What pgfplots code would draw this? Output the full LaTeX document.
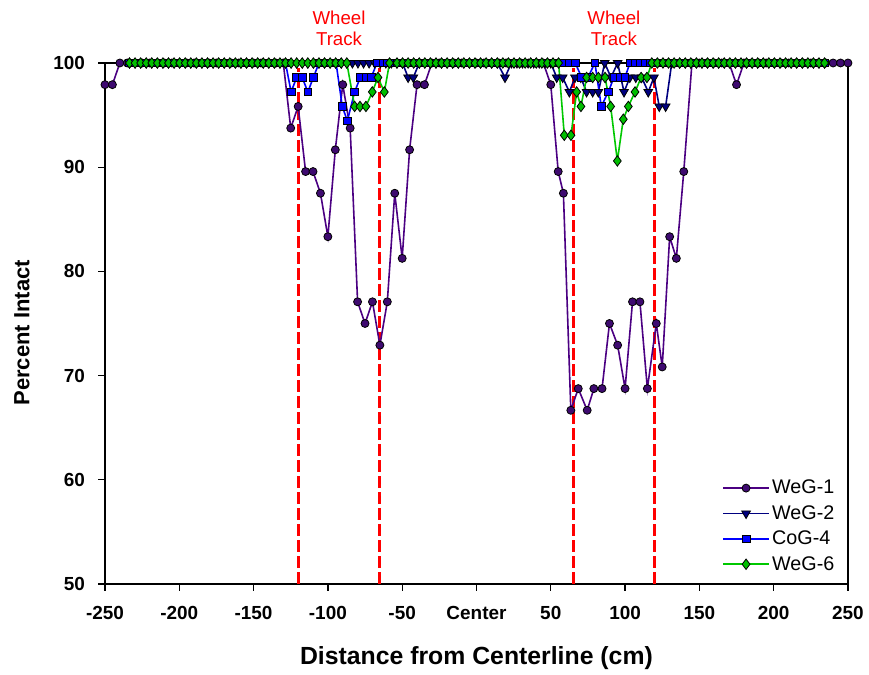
\documentclass[border=0pt]{standalone}
\usepackage{pgfplots}
\pgfplotsset{compat=1.18}
\usepackage{fontspec}
\setmainfont{Liberation Sans}
\definecolor{c1}{RGB}{75,0,130}
\definecolor{c1f}{RGB}{62,10,112}
\definecolor{c2}{RGB}{0,0,128}
\definecolor{c3}{RGB}{0,0,255}
\definecolor{c4}{RGB}{0,200,0}
\definecolor{c4f}{RGB}{0,190,0}
\begin{document}
\begin{tikzpicture}
\begin{axis}[
 scale only axis, width=557.25pt, height=390.75pt,
 xmin=-250, xmax=250, ymin=50, ymax=100,
 xtick={-250,-200,...,250},
 xticklabels={-250,-200,-150,-100,-50,Center,50,100,150,200,250},
 ytick={50,60,...,100},
 tick align=outside, xtick pos=left, ytick pos=left,
 major tick length=5pt,
 axis line style={line width=1pt},
 every tick/.style={line width=1pt, black},
 ticklabel style={font=\bfseries\fontsize{14.2}{16}\selectfont},
 xticklabel style={yshift=-8.5pt},
 yticklabel style={xshift=-6.5pt},
 /pgf/number format/assume math mode=true,
 xlabel={Distance from Centerline (cm)},
 ylabel={Percent Intact},
 xlabel style={font=\bfseries\fontsize{18.6}{22}\selectfont, at={(axis description cs:0.5,-0.142)},anchor=center},
 ylabel style={font=\bfseries\fontsize{16.5}{20}\selectfont, at={(axis description cs:-0.1117,0.482)},anchor=center},
 clip=false,
 legend style={at={(axis description cs:0.991,0.012)}, anchor=south east, draw=none, fill=none, font=\fontsize{14.8}{17}\selectfont, row sep=3.2pt, cells={anchor=west}},
 legend image code/.code={\draw[mark repeat=2,mark phase=2,#1] plot coordinates {(0pt,0pt) (17pt,0pt) (34pt,0pt)};},
]
\coordinate (bbl) at (rel axis cs:-0.1413,-0.1747);
\coordinate (btr) at (rel axis cs:1.0283,1.1209);
% wheel track lines
\addplot[red, line width=2.2pt, dash pattern=on 9pt off 3pt, forget plot] coordinates {(-120,50) (-120,99.5)};
\addplot[red, line width=2.2pt, dash pattern=on 9pt off 3pt, forget plot] coordinates {(-65,50) (-65,99.5)};
\addplot[red, line width=2.2pt, dash pattern=on 9pt off 3pt, forget plot] coordinates {(65,50) (65,99.5)};
\addplot[red, line width=2.2pt, dash pattern=on 9pt off 3pt, forget plot] coordinates {(120,50) (120,99.5)};
% WeG-1
\addplot[c1, line width=1.2pt, mark=*, mark size=3pt, mark options={fill=c1f, draw=black, line width=0.6pt}] coordinates {
(-250,97.92) (-245,97.92) (-240,100) (-235,100) (-230,100) (-225,100) (-220,100) (-215,100) (-210,100) (-205,100) (-200,100) (-195,100) (-190,100) (-185,100) (-180,100) (-175,100) (-170,100) (-165,100) (-160,100) (-155,100) (-150,100) (-145,100) (-140,100) (-135,100) (-130,100)
(-125,93.75) (-120,95.83) (-115,89.58) (-110,89.58) (-105,87.5) (-100,83.33) (-95,91.67) (-90,97.92) (-85,93.75) (-80,77.08) (-75,75) (-70,77.08) (-65,72.92) (-60,77.08) (-55,87.5) (-50,81.25) (-45,91.67) (-40,97.92) (-35,97.92)
(-30,100) (-25,100) (-20,100) (-15,100) (-10,100) (-5,100) (0,100) (5,100) (10,100) (15,100) (20,100) (25,100) (30,100) (35,100) (40,100) (45,100)
(50,97.92) (55,89.58) (58.5,87.5) (63.5,66.67) (68.5,68.75) (74.5,66.67) (79,68.75) (84.5,68.75) (89.5,75) (95,72.92) (100,68.75) (105,77.08) (110,77.08) (115,68.75) (121,75) (125,70.83) (130,83.33) (134.5,81.25) (139.5,89.58)
(145,100) (150,100) (155,100) (160,100) (165,100) (170,100) (175,97.92) (180,100) (185,100) (190,100) (195,100) (200,100) (205,100) (210,100) (215,100) (220,100) (225,100) (230,100) (235,100) (240,100) (245,100) (250,100)
};
\addlegendentry{WeG-1}
% WeG-2
\addplot[c2, line width=1.2pt, mark=triangle*, mark size=3.8pt, mark options={rotate=180, fill=c2, draw=black, line width=0.6pt}] coordinates {
(-233.5,100) (-229.75,100) (-226,100) (-222.25,100) (-218.5,100) (-214.75,100) (-211,100) (-207.25,100) (-203.5,100) (-199.75,100) (-196,100) (-192.25,100) (-188.5,100) (-184.75,100) (-181,100) (-177.25,100) (-173.5,100) (-169.75,100) (-166,100) (-162.25,100) (-158.5,100) (-154.75,100) (-151,100) (-147.25,100) (-143.5,100) (-139.75,100) (-136,100) (-132.25,100) (-128.5,100) (-124.75,100) (-121,100) (-117.25,100) (-113.5,100) (-109.75,100) (-106,100) (-102.25,100) (-98.5,100) (-94.75,100) (-91,100) (-87.25,100) (-83.5,100) (-79.75,100) (-76,100) (-72.25,100) (-68.5,100) (-64.75,100) (-61,100)
(-57.25,100) (-53.5,100) (-49.75,100) (-46,98.61) (-42.5,98.61) (-38.5,100) (-34.75,100) (-31,100) (-27.25,100) (-23.5,100) (-19.75,100) (-16,100) (-12.25,100) (-8.5,100) (-4.75,100) (-1,100) (2.75,100) (6.5,100) (10.25,100) (14,100) (19.2,98.61) (23.5,100) (27.25,100) (31,100) (34.75,100) (38.5,100) (42.25,100) (46,100) (50,100)
(54,98.61) (58,98.61) (62.5,97.22) (66.3,98.61) (70.2,98.61) (74.1,97.22) (78.2,97.22) (82,97.22) (86.3,100) (90.5,98.61) (95,100) (99.3,97.22) (103.2,98.61) (107.2,98.61) (111.2,98.61) (115.6,97.22) (119.4,98.61) (123,95.83) (127.3,95.83) (131.4,100)
(136.75,100) (140.5,100) (144.25,100) (148,100) (151.75,100) (155.5,100) (159.25,100) (163,100) (166.75,100) (170.5,100) (174.25,100) (178,100) (181.75,100) (185.5,100) (189.25,100) (193,100) (196.75,100) (200.5,100) (204.25,100) (208,100) (211.75,100) (215.5,100) (219.25,100) (223,100) (226.75,100) (230.5,100) (234.25,100)
};
\addlegendentry{WeG-2}
% CoG-4
\addplot[c3, line width=1.2pt, mark=square*, mark size=2.9pt, mark options={fill=c3, draw=black, line width=0.6pt}] coordinates {
(-233.5,100) (-229.75,100) (-226,100) (-222.25,100) (-218.5,100) (-214.75,100) (-211,100) (-207.25,100) (-203.5,100) (-199.75,100) (-196,100) (-192.25,100) (-188.5,100) (-184.75,100) (-181,100) (-177.25,100) (-173.5,100) (-169.75,100) (-166,100) (-162.25,100) (-158.5,100) (-154.75,100) (-151,100) (-147.25,100) (-143.5,100) (-139.75,100) (-136,100) (-132.25,100) (-128.5,100)
(-124.75,97.22) (-121,98.61) (-117.25,98.61) (-113.5,97.22) (-109.75,98.61) (-106,100) (-102.25,100) (-98.5,100) (-94.5,100) (-90.3,95.83) (-86.9,94.44) (-82,97.22) (-78.2,98.61) (-74.4,98.61) (-70.8,98.61) (-67,100) (-63,100) (-60,100)
(-57.25,100) (-53.5,100) (-49.75,100) (-46,100) (-42.25,100) (-38.5,100) (-34.75,100) (-31,100) (-27.25,100) (-23.5,100) (-19.75,100) (-16,100) (-12.25,100) (-8.5,100) (-4.75,100) (-1,100) (2.75,100) (6.5,100) (10.25,100) (14,100) (17.75,100) (21.5,100) (25.25,100) (29,100) (32.75,100) (36.5,100) (40.25,100) (44,100) (47.75,100) (51.5,100) (55.25,100)
(59,100) (62.5,100) (66.5,100) (70.8,98.61) (75,98.61) (79.7,100) (84,95.83) (88.7,97.22) (92.5,98.61) (96.6,98.61) (99.9,98.61) (103.3,100) (106.7,100) (110,100) (113.4,100) (117,100)
(121.75,100) (125.5,100) (129.25,100) (133,100) (136.75,100) (140.5,100) (144.25,100) (148,100) (151.75,100) (155.5,100) (159.25,100) (163,100) (166.75,100) (170.5,100) (174.25,100) (178,100) (181.75,100) (185.5,100) (189.25,100) (193,100) (196.75,100) (200.5,100) (204.25,100) (208,100) (211.75,100) (215.5,100) (219.25,100) (223,100) (226.75,100) (230.5,100) (234.25,100)
};
\addlegendentry{CoG-4}
% WeG-6
\addplot[c4, line width=1.2pt, mark=diamond*, mark size=3.9pt, mark options={fill=c4f, draw=black, line width=0.6pt}] coordinates {
(-233.5,100) (-229.75,100) (-226,100) (-222.25,100) (-218.5,100) (-214.75,100) (-211,100) (-207.25,100) (-203.5,100) (-199.75,100) (-196,100) (-192.25,100) (-188.5,100) (-184.75,100) (-181,100) (-177.25,100) (-173.5,100) (-169.75,100) (-166,100) (-162.25,100) (-158.5,100) (-154.75,100) (-151,100) (-147.25,100) (-143.5,100) (-139.75,100) (-136,100) (-132.25,100) (-128.5,100) (-124.75,100) (-121,100) (-117.25,100) (-113.5,100) (-109.75,100) (-106,100) (-102.25,100) (-98.5,100) (-94.75,100) (-91,100) (-87.25,100)
(-82,95.83) (-78.4,95.83) (-74.4,95.83) (-70.1,97.22) (-66.3,98.61) (-62,97.22) (-58.5,100)
(-53.5,100) (-49.75,100) (-46,100) (-42.25,100) (-38.5,100) (-34.75,100) (-31,100) (-27.25,100) (-23.5,100) (-19.75,100) (-16,100) (-12.25,100) (-8.5,100) (-4.75,100) (-1,100) (2.75,100) (6.5,100) (10.25,100) (14,100) (17.75,100) (21.5,100) (25.25,100) (29,100) (32.75,100) (36.5,100) (40.25,100) (44,100) (47.75,100) (51.5,100) (55.25,100)
(59.1,93.06) (63.6,93.06) (67.4,97.22) (70.3,95.83) (74.1,98.61) (78.2,98.61) (82,98.61) (86.5,98.61) (90.3,95.83) (94.8,90.6) (98.8,94.6) (102.2,95.83) (106.7,97.22) (110.8,98.61) (114.7,98.61) (118,100)
(121.75,100) (125.5,100) (129.25,100) (133,100) (136.75,100) (140.5,100) (144.25,100) (148,100) (151.75,100) (155.5,100) (159.25,100) (163,100) (166.75,100) (170.5,100) (174.25,100) (178,100) (181.75,100) (185.5,100) (189.25,100) (193,100) (196.75,100) (200.5,100) (204.25,100) (208,100) (211.75,100) (215.5,100) (219.25,100) (223,100) (226.75,100) (230.5,100) (234.25,100)
};
\addlegendentry{WeG-6}
\node[red, align=center, font=\fontsize{14}{16}\selectfont] at (axis cs:-92.5,103.3) {Wheel\\Track};
\node[red, align=center, font=\fontsize{14}{16}\selectfont] at (axis cs:92.5,103.3) {Wheel\\Track};
\end{axis}
\pgfresetboundingbox
\path (bbl) rectangle (btr);
\end{tikzpicture}
\end{document}
